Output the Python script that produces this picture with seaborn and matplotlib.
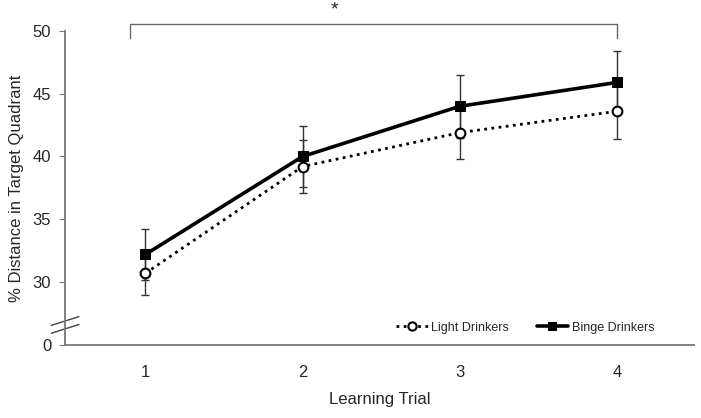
import matplotlib
matplotlib.use("Agg")
import matplotlib.pyplot as plt
import seaborn as sns
import pandas as pd

trials = [1, 2, 3, 4]
light_mean = [30.7, 39.2, 41.9, 43.6]
light_err = [1.7, 2.1, 2.1, 2.2]
binge_mean = [32.2, 40.0, 44.0, 45.9]
binge_err = [2.0, 2.4, 2.5, 2.5]
groups = ["Light Drinkers", "Binge Drinkers"]
ytick_vals = [25, 30, 35, 40, 45, 50]
ytick_labels = ["0", "30", "35", "40", "45", "50"]

sns.set_style("white")
plt.rcParams['font.family'] = ['Liberation Sans', 'DejaVu Sans']

df = pd.DataFrame({
    "trial": trials * 2,
    "value": light_mean + binge_mean,
    "group": [groups[0]] * 4 + [groups[1]] * 4,
})

fig = plt.figure(figsize=(7.01, 4.18), dpi=100)
ax = fig.add_axes([0.093, 0.175, 0.897, 0.751])

# error bars first so lines sit on top
ax.errorbar(trials, light_mean, yerr=light_err, fmt="none", ecolor="#333333",
            elinewidth=1, capsize=3, capthick=1, zorder=1)
ax.errorbar(trials, binge_mean, yerr=binge_err, fmt="none", ecolor="#333333",
            elinewidth=1, capsize=3, capthick=1, zorder=1)

sns.lineplot(data=df, x="trial", y="value", hue="group", style="group",
             palette={groups[0]: "black", groups[1]: "black"},
             dashes={groups[0]: (1, 1.6), groups[1]: ""},
             markers={groups[0]: "o", groups[1]: "s"},
             ax=ax, zorder=3)

for ln in ax.lines:
    if ln.get_marker() == "o":
        ln.set_linewidth(2.0)
        ln.set_markersize(7)
        ln.set_markerfacecolor("white")
        ln.set_markeredgecolor("black")
        ln.set_markeredgewidth(1.5)
    elif ln.get_marker() == "s":
        ln.set_linewidth(2.6)
        ln.set_markersize(7)
        ln.set_markerfacecolor("black")
        ln.set_markeredgecolor("black")

ax.set_xlim(0.49, 4.49)
ax.set_ylim(25, 50)
ax.set_xticks(trials)
ax.set_xticklabels([str(t) for t in trials], fontsize=12)
ax.set_yticks(ytick_vals)
ax.set_yticklabels(ytick_labels, fontsize=12)
ax.tick_params(axis="y", left=True, length=4, color="#777777", pad=6)
ax.tick_params(axis="x", bottom=False, pad=11)
ax.set_xlabel("Learning Trial", fontsize=12, labelpad=9)
ax.set_ylabel("% Distance in Target Quadrant", fontsize=12, labelpad=6)

sns.despine(ax=ax)
for side in ["left", "bottom"]:
    ax.spines[side].set_color("#777777")
    ax.spines[side].set_linewidth(1.3)

# axis break marks
for dy in [0.0, -0.025]:
    ax.plot([-0.022, 0.022], [0.062 + dy, 0.090 + dy], transform=ax.transAxes,
            color="#444444", lw=1, clip_on=False)

# significance bracket
ax.plot([0.9, 0.9, 4.0, 4.0], [49.4, 50.55, 50.55, 49.4], color="#666666",
        lw=1, clip_on=False)
ax.text(2.2, 51.0, "*", ha="center", va="bottom", fontsize=14, clip_on=False)

leg = ax.legend(loc="lower right", bbox_to_anchor=(0.955, 0.0), ncol=2,
                frameon=False, fontsize=9, handlelength=2.5, columnspacing=2.2,
                handletextpad=0.3, markerscale=0.85)

fig.savefig("out.png", dpi=100)
